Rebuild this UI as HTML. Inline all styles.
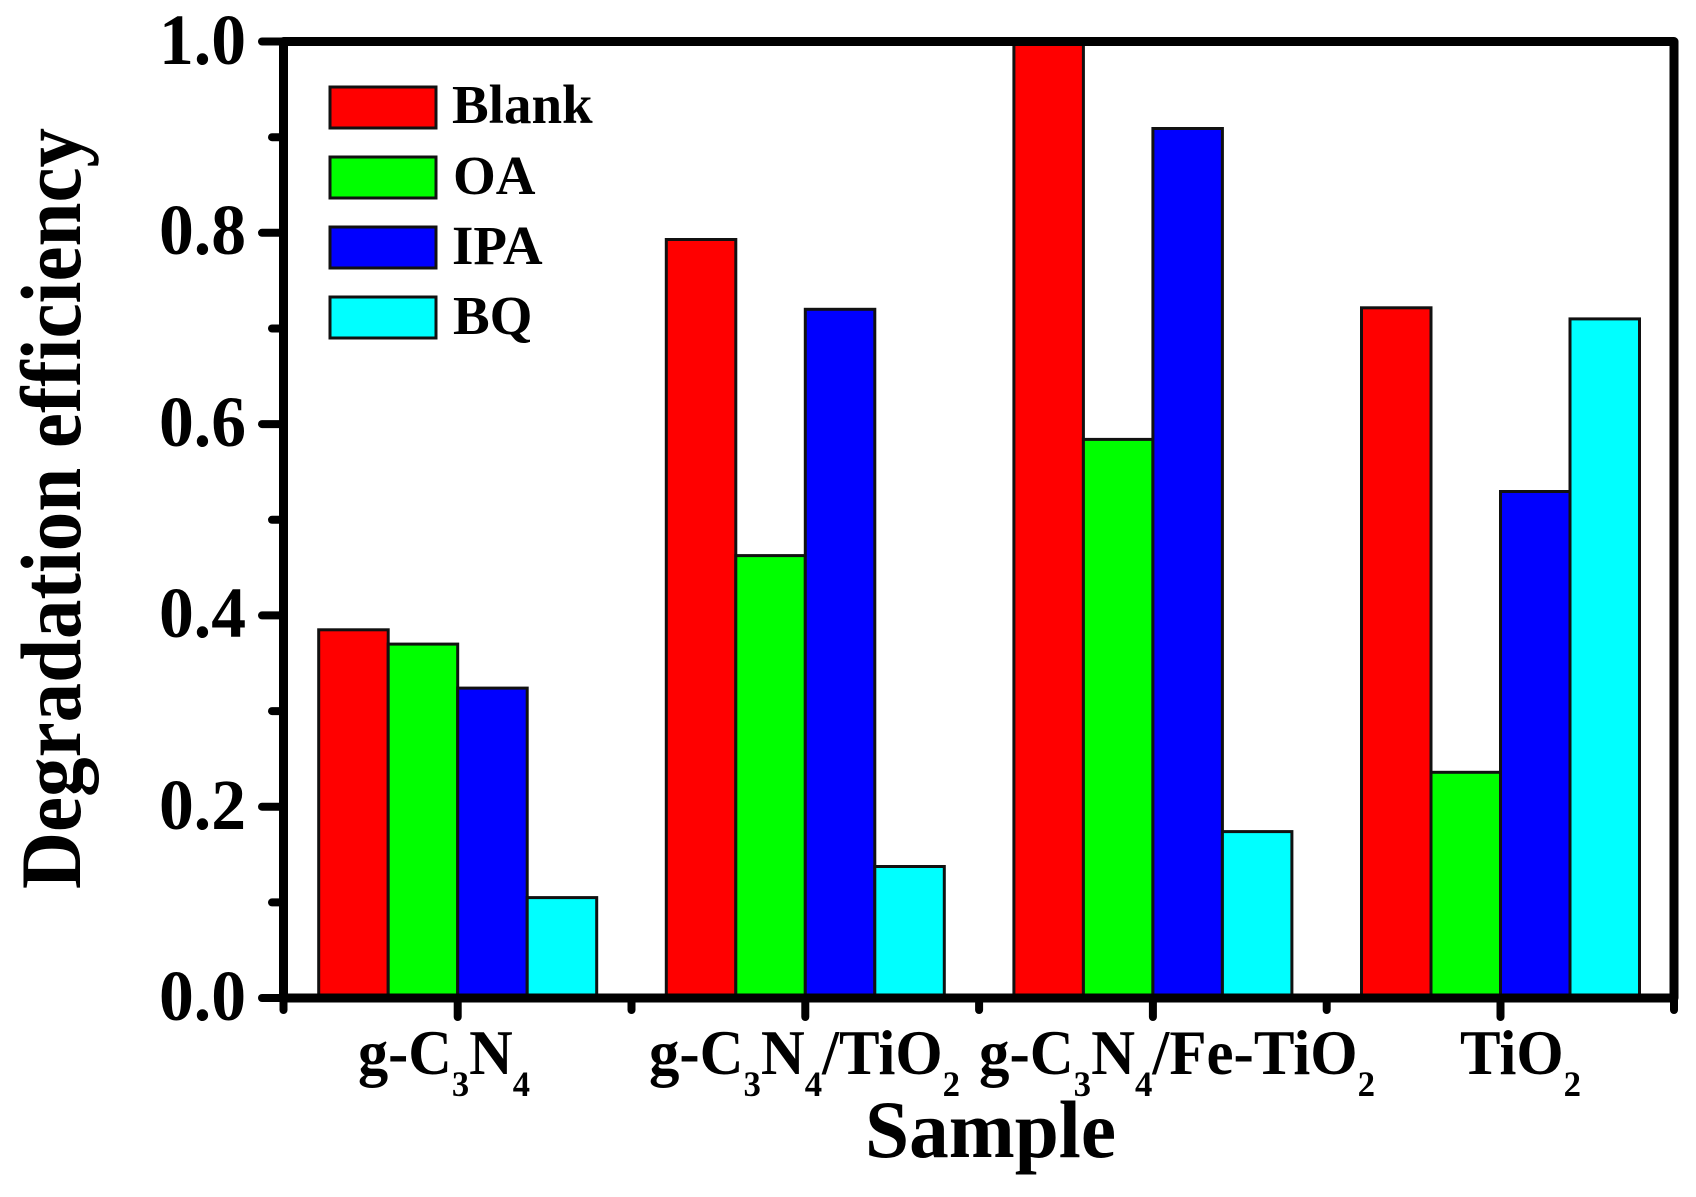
<!DOCTYPE html>
<html>
<head>
<meta charset="utf-8">
<style>
  html,body{margin:0;padding:0;background:#fff;}
  svg{display:block;}
  text{font-family:"Liberation Serif","Times New Roman",serif;font-weight:bold;fill:#000;}
</style>
</head>
<body>
<svg width="1696" height="1197" viewBox="0 0 1696 1197" xmlns="http://www.w3.org/2000/svg">
  <rect x="0" y="0" width="1696" height="1197" fill="#fff"/>

  <!-- Bars -->
  <g stroke="#111" stroke-width="3">
    <!-- g-C3N4 -->
    <rect x="318.7" y="629.8" width="69.5" height="368.2" fill="#FF0000"/>
    <rect x="388.2" y="644.1" width="69.5" height="353.9" fill="#00FF00"/>
    <rect x="457.7" y="688.1" width="69.5" height="309.9" fill="#0000FF"/>
    <rect x="527.2" y="897.6" width="69.5" height="100.4" fill="#00FFFF"/>
    <!-- g-C3N4/TiO2 -->
    <rect x="666.3" y="239.5" width="69.5" height="758.5" fill="#FF0000"/>
    <rect x="735.8" y="555.6" width="69.5" height="442.4" fill="#00FF00"/>
    <rect x="805.3" y="309.3" width="69.5" height="688.7" fill="#0000FF"/>
    <rect x="874.8" y="866.5" width="69.5" height="131.5" fill="#00FFFF"/>
    <!-- g-C3N4/Fe-TiO2 -->
    <rect x="1013.9" y="41.5" width="69.5" height="956.5" fill="#FF0000"/>
    <rect x="1083.4" y="439.4" width="69.5" height="558.6" fill="#00FF00"/>
    <rect x="1152.9" y="128.5" width="69.5" height="869.5" fill="#0000FF"/>
    <rect x="1222.4" y="831.6" width="69.5" height="166.4" fill="#00FFFF"/>
    <!-- TiO2 -->
    <rect x="1361.5" y="307.8" width="69.5" height="690.2" fill="#FF0000"/>
    <rect x="1431" y="772.3" width="69.5" height="225.7" fill="#00FF00"/>
    <rect x="1500.5" y="491.5" width="69.5" height="506.5" fill="#0000FF"/>
    <rect x="1570" y="318.9" width="69.5" height="679.1" fill="#00FFFF"/>
  </g>

  <!-- Axes frame -->
  <rect x="283.5" y="41.5" width="1390.5" height="956.5" fill="none" stroke="#000" stroke-width="9" stroke-linejoin="round"/>

  <!-- Y ticks -->
  <g stroke="#000" stroke-width="8" stroke-linecap="round">
    <line x1="262" y1="998" x2="283" y2="998"/>
    <line x1="262" y1="806.7" x2="283" y2="806.7"/>
    <line x1="262" y1="615.4" x2="283" y2="615.4"/>
    <line x1="262" y1="424.1" x2="283" y2="424.1"/>
    <line x1="262" y1="232.8" x2="283" y2="232.8"/>
    <line x1="262" y1="41.5" x2="283" y2="41.5"/>
    <line x1="272" y1="902.4" x2="283" y2="902.4"/>
    <line x1="272" y1="711.1" x2="283" y2="711.1"/>
    <line x1="272" y1="519.8" x2="283" y2="519.8"/>
    <line x1="272" y1="328.5" x2="283" y2="328.5"/>
    <line x1="272" y1="137.2" x2="283" y2="137.2"/>
  </g>

  <!-- X ticks -->
  <g stroke="#000" stroke-width="8" stroke-linecap="round">
    <line x1="457.7" y1="998" x2="457.7" y2="1017"/>
    <line x1="805.3" y1="998" x2="805.3" y2="1017"/>
    <line x1="1152.9" y1="998" x2="1152.9" y2="1017"/>
    <line x1="1500.5" y1="998" x2="1500.5" y2="1017"/>
    <line x1="283.5" y1="998" x2="283.5" y2="1010"/>
    <line x1="631.5" y1="998" x2="631.5" y2="1010"/>
    <line x1="979.1" y1="998" x2="979.1" y2="1010"/>
    <line x1="1326.7" y1="998" x2="1326.7" y2="1010"/>
    <line x1="1674" y1="998" x2="1674" y2="1010"/>
  </g>

  <!-- Y tick labels -->
  <g font-size="72" text-anchor="end">
    <text x="246" y="1020" textLength="87" lengthAdjust="spacingAndGlyphs">0.0</text>
    <text x="246" y="829" textLength="87" lengthAdjust="spacingAndGlyphs">0.2</text>
    <text x="246" y="637" textLength="87" lengthAdjust="spacingAndGlyphs">0.4</text>
    <text x="246" y="446" textLength="87" lengthAdjust="spacingAndGlyphs">0.6</text>
    <text x="246" y="254" textLength="87" lengthAdjust="spacingAndGlyphs">0.8</text>
    <text x="246" y="64" textLength="87" lengthAdjust="spacingAndGlyphs">1.0</text>
  </g>

  <!-- X tick labels -->
  <g font-size="63">
    <text x="358" y="1074" textLength="172" lengthAdjust="spacingAndGlyphs">g-C<tspan font-size="36" dy="22">3</tspan><tspan dy="-22">N</tspan><tspan font-size="36" dy="22">4</tspan></text>
    <text x="649" y="1074" textLength="311" lengthAdjust="spacingAndGlyphs">g-C<tspan font-size="36" dy="22">3</tspan><tspan dy="-22">N</tspan><tspan font-size="36" dy="22">4</tspan><tspan dy="-22">/TiO</tspan><tspan font-size="36" dy="22">2</tspan></text>
    <text x="979" y="1074" textLength="396" lengthAdjust="spacingAndGlyphs">g-C<tspan font-size="36" dy="22">3</tspan><tspan dy="-22">N</tspan><tspan font-size="36" dy="22">4</tspan><tspan dy="-22">/Fe-TiO</tspan><tspan font-size="36" dy="22">2</tspan></text>
    <text x="1460" y="1074" textLength="121" lengthAdjust="spacingAndGlyphs">TiO<tspan font-size="36" dy="22">2</tspan></text>
  </g>

  <!-- Axis titles -->
  <text x="865" y="1157" font-size="82" textLength="251" lengthAdjust="spacingAndGlyphs">Sample</text>
  <text transform="translate(80,889) rotate(-90)" x="0" y="0" font-size="86" textLength="761" lengthAdjust="spacingAndGlyphs">Degradation efficiency</text>

  <!-- Legend -->
  <g stroke="#111" stroke-width="3">
    <rect x="330" y="87" width="106" height="41" fill="#FF0000"/>
    <rect x="330" y="157" width="106" height="41" fill="#00FF00"/>
    <rect x="330" y="227" width="106" height="41" fill="#0000FF"/>
    <rect x="330" y="297" width="106" height="41" fill="#00FFFF"/>
  </g>
  <g font-size="55">
    <text x="452" y="123">Blank</text>
    <text x="453" y="194">OA</text>
    <text x="452" y="264">IPA</text>
    <text x="453" y="334">BQ</text>
  </g>
</svg>
</body>
</html>
